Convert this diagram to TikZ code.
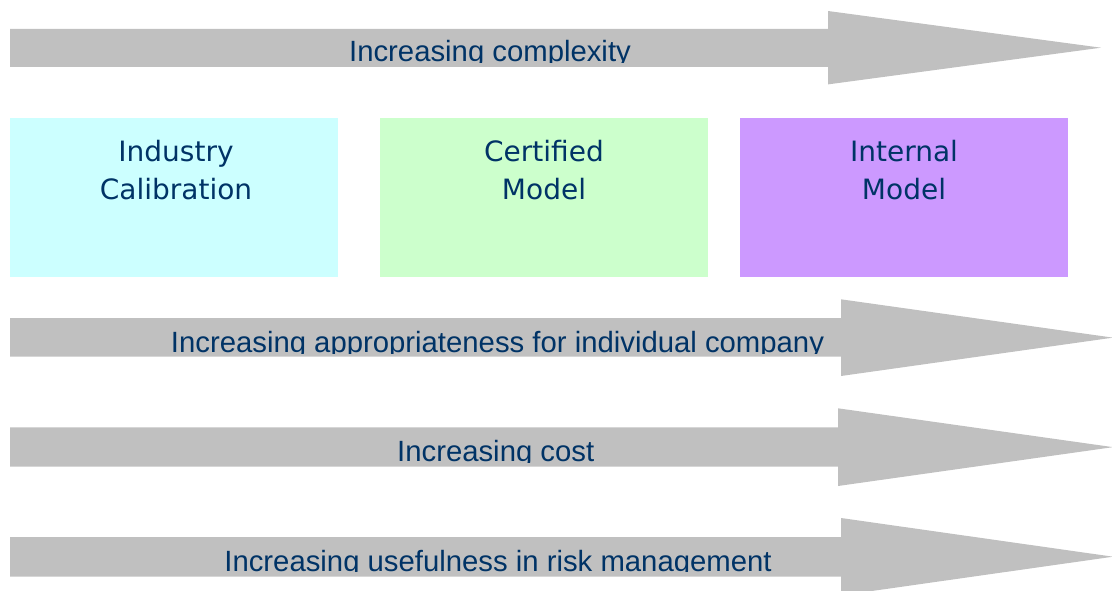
\documentclass[tikz,border=0pt]{standalone}
\usepackage{fontspec}
\setmainfont{Liberation Sans}
\newfontfamily\boxfont{DejaVu Sans}
\definecolor{arrowGray}{HTML}{C0C0C0}
\definecolor{textNavy}{HTML}{003366}
\definecolor{industryCyan}{HTML}{CCFFFF}
\definecolor{certifiedGreen}{HTML}{CCFFCC}
\definecolor{internalViolet}{HTML}{CC99FF}

\begin{document}
\begin{tikzpicture}
[x=1pt,y=-1pt,
  arrowDecorate/.style={fill=arrowGray,draw=none},%
  boxDecorate/.style={draw=none,minimum width=328pt,minimum height=158pt,inner sep=0pt},%
  boxText/.style={text=textNavy,font=\boxfont\fontsize{28}{38.3}\selectfont,align=center,anchor=base,inner sep=0pt},%
  labelDecorate/.style={text=textNavy,font=\fontsize{29.3}{30}\selectfont,anchor=base,inner sep=0pt}]
\useasboundingbox (0,0) rectangle (1112,591);
\clip (0,0) rectangle (1112,591);
%% boxes
\foreach \nodename/\x/\boxcolor/\tx/\boxtext in {
  industry/174/industryCyan/176/{Industry\\Calibration},
  certified/544/certifiedGreen/544/{Certified\\Model},
  internal/904/internalViolet/904/{Internal\\Model}}
{
  \node (\nodename) at (\x,197.5) [boxDecorate,fill=\boxcolor] {};
  \node (\nodename Text) at (\tx,200) [boxText] {\boxtext};
}
%% arrows
\foreach \nodename/\top/\bot/\htop/\hbot/\base/\tip/\lx/\ly/\clipy/\labeltext in {
  complexity/29/67/11/84.4/828/1101/490/61.5/62.3/Increasing complexity,
  appropriate/318/356.7/299.3/376/841/1113/497.5/352.5/353.3/Increasing appropriateness for individual company,
  cost/427.3/466.7/408.3/486/838/1113/495.7/461/462/Increasing cost,
  useful/537/576.7/518/595.4/841/1113/498/571/571.8/Increasing usefulness in risk management}
{
  \fill[arrowDecorate] (10,\top) -- (\base,\top) -- (\base,\htop)
    -- (\tip,{(\htop+\hbot)/2}) -- (\base,\hbot) -- (\base,\bot) -- (10,\bot) -- cycle;
  \begin{scope}
    \clip (10,\top) rectangle (\tip,\clipy);
    \node (\nodename) at (\lx,\ly) [labelDecorate] {\labeltext};
  \end{scope}
}
\end{tikzpicture}
\end{document}
